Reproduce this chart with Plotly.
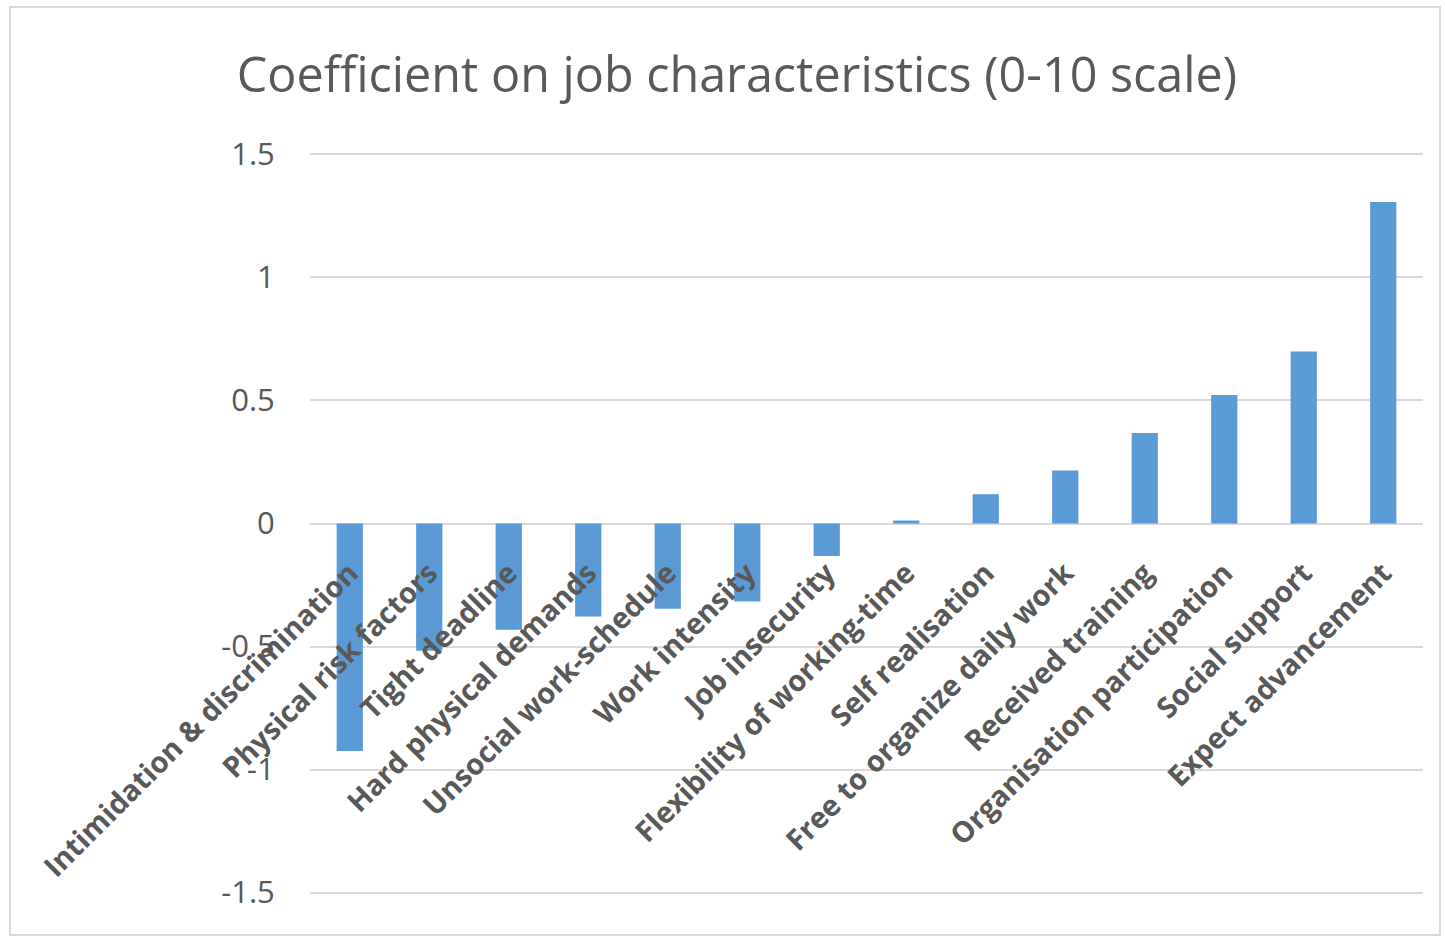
import plotly.graph_objects as go

# Job characteristics and their estimated coefficients (0-10 scale)
categories = [
    "Intimidation & discrimination",
    "Physical risk factors",
    "Tight deadline",
    "Hard physical demands",
    "Unsocial work-schedule",
    "Work intensity",
    "Job insecurity",
    "Flexibility of working-time",
    "Self realisation",
    "Free to organize daily work",
    "Received training",
    "Organisation participation",
    "Social support",
    "Expect advancement",
]
coefficients = [-0.925, -0.517, -0.432, -0.378, -0.347, -0.317, -0.132,
                0.012, 0.119, 0.215, 0.368, 0.522, 0.699, 1.307]
y_ticks = [-1.5, -1, -0.5, 0, 0.5, 1, 1.5]
y_tick_text = ["-1.5", "-1", "-0.5", "0", "0.5", "1", "1.5"]

W, H = 1445, 937
ML, MR, MT, MB = 310, 22, 152, 42
PW, PH = W - ML - MR, H - MT - MB

TEXT = "#595959"
GRID = "#d9d9d9"
FONT = "Open Sans"

fig = go.Figure(
    go.Bar(
        x=categories,
        y=coefficients,
        marker=dict(color="#5b9bd5", line=dict(width=0)),
    )
)

# light frame around the whole chart area
def px_x(p):
    return (p - ML) / PW

def px_y(p):
    return (H - MB - p) / PH

fig.add_shape(
    type="rect", xref="paper", yref="paper",
    x0=px_x(10), x1=px_x(1440), y0=px_y(935), y1=px_y(7),
    line=dict(color=GRID, width=2), fillcolor="rgba(0,0,0,0)", layer="below",
)

fig.update_layout(
    width=W, height=H,
    margin=dict(l=ML, r=MR, t=MT, b=MB),
    paper_bgcolor="white", plot_bgcolor="white",
    bargap=0.67,
    showlegend=False,
    title=dict(
        text="Coefficient on job characteristics (0-10 scale)",
        x=0.51, xref="container", xanchor="center",
        y=1 - 75 / H, yref="container", yanchor="middle",
        font=dict(family=FONT, size=48.5, color=TEXT),
    ),
    xaxis=dict(
        anchor="free", position=0.5,
        tickangle=-45,
        tickfont=dict(family=FONT, size=29, color=TEXT, weight="bold"),
        showgrid=False, showline=False, zeroline=False,
        ticks="outside", ticklen=20, tickcolor="rgba(0,0,0,0)",
    ),
    yaxis=dict(
        range=[-1.51, 1.51],
        tickvals=y_ticks, ticktext=y_tick_text,
        tickfont=dict(family=FONT, size=31, color=TEXT),
        showgrid=True, gridcolor=GRID, gridwidth=2,
        zeroline=True, zerolinecolor=GRID, zerolinewidth=2,
        showline=False,
        ticks="outside", ticklen=28, tickcolor="rgba(0,0,0,0)",
    ),
)

fig.write_html("out.html")
